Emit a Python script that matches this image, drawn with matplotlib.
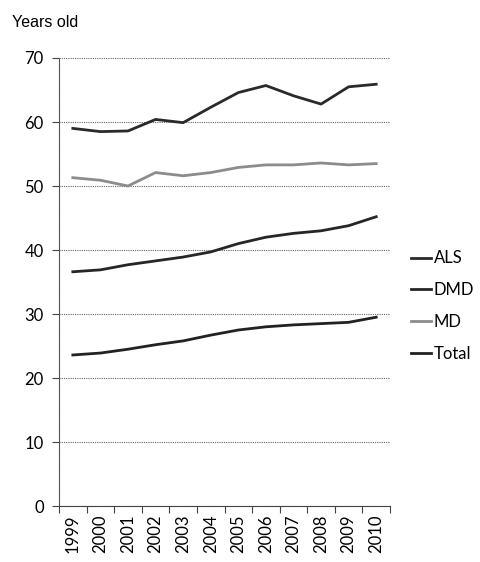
import matplotlib.pyplot as plt
import numpy as np

# Donnees
annees = ["1999", "2000", "2001", "2002", "2003", "2004",
          "2005", "2006", "2007", "2008", "2009", "2010"]
als = [59.0, 58.5, 58.6, 60.4, 59.9, 62.3, 64.6, 65.7, 64.1, 62.8, 65.5, 65.9]
dmd = [36.6, 36.9, 37.7, 38.3, 38.9, 39.7, 41.0, 42.0, 42.6, 43.0, 43.8, 45.2]
md = [51.3, 50.9, 50.0, 52.1, 51.6, 52.1, 52.9, 53.3, 53.3, 53.6, 53.3, 53.5]
total = [23.6, 23.9, 24.5, 25.2, 25.8, 26.7, 27.5, 28.0, 28.3, 28.5, 28.7, 29.5]

police = "Lato"

fig = plt.figure(figsize=(4.8, 5.62), dpi=100)
ax = fig.add_axes([0.123, 0.0996, 0.6895, 0.7972])

x = np.arange(len(annees))
ax.plot(x, als, color="#2a2a2a", lw=2.0, label="ALS")
ax.plot(x, dmd, color="#262626", lw=2.0, label="DMD")
ax.plot(x, md, color="#8c8c8c", lw=2.0, label="MD")
ax.plot(x, total, color="#222222", lw=2.0, label="Total")

ax.set_xlim(-0.5, len(annees) - 0.5)
ax.set_ylim(0, 70)
ax.set_yticks(range(0, 71, 10))
ax.set_yticklabels([str(v) for v in range(0, 71, 10)], fontsize=12, family=police)

# graduations aux limites des categories, etiquettes au centre
ax.set_xticks(np.arange(-0.5, len(annees), 1.0))
ax.set_xticklabels([])
ax.set_xticks(x, minor=True)
ax.set_xticklabels(annees, minor=True, rotation=90, fontsize=12, family=police)
ax.tick_params(axis="x", which="major", length=5, direction="out", color="#444444")
ax.tick_params(axis="x", which="minor", length=0, pad=6)
ax.tick_params(axis="y", length=5, color="#444444", pad=6)

ax.grid(axis="y", color="#666666", lw=0.8, ls=(0, (1, 1)))
ax.set_axisbelow(True)
for s in ["top", "right"]:
    ax.spines[s].set_visible(False)
ax.spines["left"].set_color("#555555")
ax.spines["left"].set_linestyle((0, (1, 0.5)))
ax.spines["bottom"].set_color("#444444")

leg = ax.legend(loc="center left", bbox_to_anchor=(1.062, 0.446), frameon=False,
                borderpad=0, borderaxespad=0,
                handlelength=1.25, handletextpad=0.15, labelspacing=0.95,
                prop={"family": police, "size": 12})

fig.text(0.025, 0.96, "Years old", fontsize=11.5, family="Liberation Sans",
         va="center", ha="left")

fig.savefig("out.png", dpi=100)
